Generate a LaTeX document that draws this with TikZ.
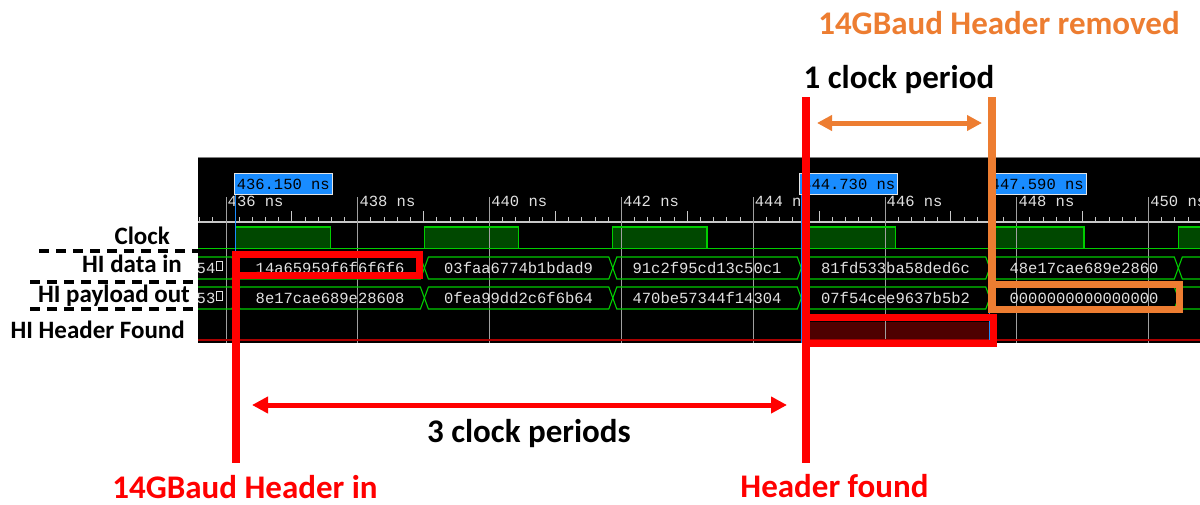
\documentclass[tikz,border=0pt]{standalone}
\usepackage{fontspec}
\setmainfont{Carlito}
\newfontfamily\wavemono{Liberation Mono}
\usetikzlibrary{arrows.meta}
\definecolor{annred}{RGB}{255,0,0}
\definecolor{annorange}{RGB}{237,125,49}
\definecolor{wgreen}{RGB}{0,205,0}
\definecolor{wfill}{RGB}{0,72,0}
\definecolor{wgrid}{RGB}{160,160,160}
\definecolor{wruler}{RGB}{200,200,200}
\definecolor{wtext}{RGB}{225,225,225}
\definecolor{curblue}{RGB}{25,140,255}
\definecolor{hdrfill}{RGB}{78,0,0}
\definecolor{hdrline}{RGB}{170,0,0}
\newcommand{\busseg}[6]{%
  \draw[busline] ({#2},{(#4+#5)/2}) -- ({#2+4},{#4}) -- ({#3-4},{#4}) -- ({#3},{(#4+#5)/2}) -- ({#3-4},{#5}) -- ({#2+4},{#5}) -- cycle;
  \node[valtxt] (#1) at ({(#2+#3)/2},{(#4+#5)/2+5}) {#6};}
\begin{document}
\begin{tikzpicture}[x=1pt,y=-1pt,
  lbl/.style={font=\bfseries\fontsize{25}{28}\selectfont, inner sep=0pt, anchor=base east},
  ann/.style={font=\bfseries\fontsize{33}{36}\selectfont, inner sep=0pt, anchor=base},
  valtxt/.style={font=\wavemono\fontsize{15.5}{17}\selectfont, text=wtext, inner sep=0pt, anchor=base},
  ticktxt/.style={font=\wavemono\fontsize{15.5}{17}\selectfont, text=wtext, inner sep=0pt, anchor=base west},
  curlab/.style={font=\wavemono\fontsize{15.5}{17}\selectfont, text=black, fill=curblue, draw=white!80!gray, line width=0.8pt, inner sep=0pt, minimum width=98pt, minimum height=21pt, anchor=north west},
  busline/.style={draw=wgreen, line width=1.1pt},
  clkline/.style={draw=wgreen, line width=1.1pt},
  sepdash/.style={draw=black, line width=3.5pt, dash pattern=on 10pt off 7pt},
  redbox/.style={draw=annred, line width=7pt},
  redline/.style={draw=annred, line width=8pt},
  orbox/.style={draw=annorange, line width=7pt},
  orline/.style={draw=annorange, line width=8pt},
  rarrow/.style={draw=annred, line width=5pt, {Triangle[length=16pt,width=16pt]}-{Triangle[length=16pt,width=16pt]}},
  oarrow/.style={draw=annorange, line width=5pt, {Triangle[length=15pt,width=15pt]}-{Triangle[length=15pt,width=15pt]}}
]
\useasboundingbox (0,0) rectangle (1200,504);
\fill[white] (0,0) rectangle (1200,504);
% waveform panel
\fill[black] (198,157) rectangle (1200,343);
\begin{scope}
\clip (198,157) rectangle (1200,343);
\draw[gray, line width=1pt] (198,157.5) -- (1200,157.5);
% clock high fills
\foreach \k in {0,...,5} {
  \pgfmathsetmacro\rr{235.9+188.47*\k}
  \pgfmathsetmacro\ff{\rr+94.2}
  \fill[wfill] (\rr,227) rectangle (\ff,248.5);
}
% header found high
\fill[hdrfill] (801.3,322) rectangle (989.8,340);
% ruler
\draw[wruler, line width=1.2pt] (198,222) -- (1200,222);
\foreach \i in {-2,...,74} {
  \draw[wruler, line width=1pt] ({226+13.18*\i},217) -- ({226+13.18*\i},222);
}
\foreach \i in {5,15,...,75} {
  \draw[wruler, line width=1pt] ({226+13.18*\i},211) -- ({226+13.18*\i},222);
}
% major grid lines and labels
\foreach \t [count=\c from 0] in {436,438,...,450} {
  \draw[wgrid, line width=1pt] ({226+131.8*\c},197) -- ({226+131.8*\c},343);
  \node[ticktxt] (tk\t) at ({227.5+131.8*\c},206) {\t\ ns};
}
% clock waveform
\draw[clkline] (198,248.5) -- (1200,248.5);
\foreach \k in {0,...,5} {
  \pgfmathsetmacro\rr{235.9+188.47*\k}
  \pgfmathsetmacro\ff{\rr+94.2}
  \draw[clkline] (\rr,248.5) -- (\rr,227) -- (\ff,227) -- (\ff,248.5);
}
% data in
\busseg{a0}{150}{235.9}{257}{279}{}
\busseg{a1}{235.9}{424.4}{257}{279}{14a65959f6f6f6f6}
\busseg{a2}{424.4}{612.8}{257}{279}{03faa6774b1bdad9}
\busseg{a3}{612.8}{801.3}{257}{279}{91c2f95cd13c50c1}
\busseg{a4}{801.3}{989.8}{257}{279}{81fd533ba58ded6c}
\busseg{a5}{989.8}{1178.3}{257}{279}{48e17cae689e2860}
\busseg{a6}{1178.3}{1366.8}{257}{279}{}
\node[valtxt] (a0t) at (206,273) {54};
\draw[wtext, line width=1pt] (216,261) rectangle (222,270);
% payload out
\busseg{b0}{150}{235.9}{287}{309}{}
\busseg{b1}{235.9}{424.4}{287}{309}{8e17cae689e28608}
\busseg{b2}{424.4}{612.8}{287}{309}{0fea99dd2c6f6b64}
\busseg{b3}{612.8}{801.3}{287}{309}{470be57344f14304}
\busseg{b4}{801.3}{989.8}{287}{309}{07f54cee9637b5b2}
\busseg{b5}{989.8}{1178.3}{287}{309}{0000000000000000}
\busseg{b6}{1178.3}{1366.8}{287}{309}{}
\node[valtxt] (b0t) at (206,303) {53};
\draw[wtext, line width=1pt] (216,291) rectangle (222,300);
% header found low line
\draw[hdrline, line width=1.6pt] (198,340) -- (1200,340);
% cursors
\foreach \cx/\lab/\nm in {235.9/436.150/c1, 801.3/444.730/c2, 989.8/447.590/c3} {
  \draw[curblue, line width=1pt] (\cx,193) -- (\cx,343);
  \node[curlab] (\nm) at ({\cx-2},173) {\lab\ ns};
}
\end{scope}
% signal names
\node[lbl] (lclk) at (170,244) {Clock};
\node[lbl] (ldin) at (182,272) {HI data in};
\node[lbl] (lpay) at (190,302) {HI payload out};
\node[lbl] (lhdr) at (185,338) {HI Header Found};
\coordinate (d1a) at (39,251);  \coordinate (d1b) at (198,251);
\coordinate (d2a) at (30,282);  \coordinate (d2b) at (198,282);
\coordinate (d3a) at (30,309);  \coordinate (d3b) at (198,309);
\draw[sepdash] (d1a) -- (d1b);
\draw[sepdash] (d2a) -- (d2b);
\draw[sepdash] (d3a) -- (d3b);
% red markings
\draw[redbox] (235.5,254.5) rectangle (419.5,275.5);
\draw[redbox] (806,317.5) rectangle (993,343.5);
\coordinate (rl1) at (236,251); \coordinate (rl2) at (236,463);
\coordinate (rr1) at (806,97);  \coordinate (rr2) at (806,463);
\draw[redline] (rl1) -- (rl2);
\draw[redline] (rr1) -- (rr2);
% orange markings
\draw[orbox] (991.5,284.5) rectangle (1179.5,309.5);
\coordinate (ol1) at (991.5,97); \coordinate (ol2) at (991.5,313);
\draw[orline] (ol1) -- (ol2);
% arrows
\coordinate (ra1) at (252,405); \coordinate (ra2) at (787,405);
\draw[rarrow] (ra1) -- (ra2);
\coordinate (oa1) at (817,123); \coordinate (oa2) at (982,123);
\draw[oarrow] (oa1) -- (oa2);
% annotation texts
\node[ann, text=annorange] (trem) at (999,34) {14GBaud Header removed};
\node[ann] (t1p) at (899,88) {1 clock period};
\node[ann] (t3p) at (529,442) {3 clock periods};
\node[ann, text=annred] (thin) at (245,498) {14GBaud Header in};
\node[ann, text=annred] (thf) at (834.5,497) {Header found};
\end{tikzpicture}
\end{document}
